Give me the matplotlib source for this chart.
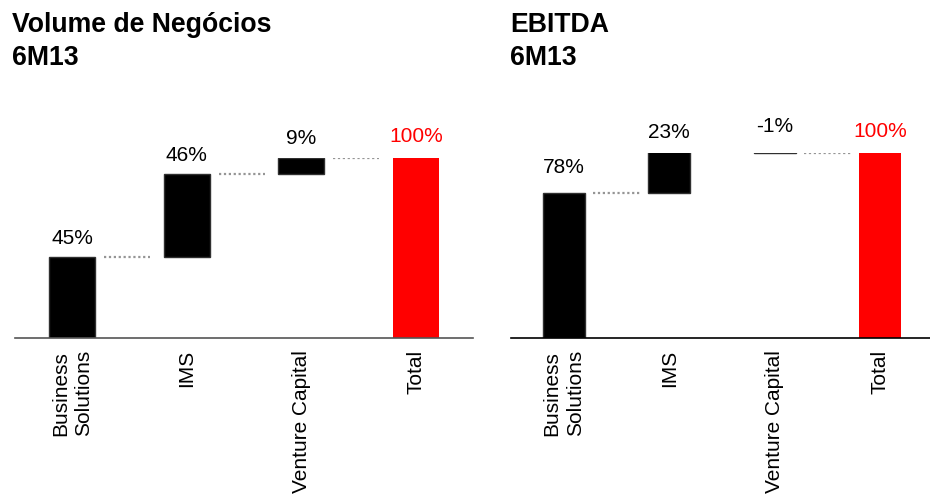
import matplotlib
matplotlib.use("Agg")
import matplotlib.pyplot as plt
import numpy as np

plt.rcParams['font.family'] = ['Liberation Sans', 'DejaVu Sans']

categories = ['Business\nSolutions', 'IMS', 'Venture Capital', 'Total']
volume_values = [45, 46, 9, 100]
ebitda_values = [78, 23, -1, 100]
volume_title = ['Volume de Negócios', '6M13']
ebitda_title = ['EBITDA', '6M13']

W, H = 930, 498
fig = plt.figure(figsize=(W / 100, H / 100), dpi=100)


def px_axes(x0, y_base, width, height):
    return fig.add_axes([x0 / W, (H - y_base) / H, width / W, height / H])


def waterfall(ax, values, label_pads, gap_l, gap_r, spine_color):
    n = len(values)
    bottoms, heights, colors = [], [], []
    level = 0
    for i, v in enumerate(values):
        if i == n - 1:
            bottoms.append(0)
            heights.append(v)
            colors.append('#ff0000')
        else:
            b = min(level, level + v)
            bottoms.append(b)
            heights.append(abs(v))
            colors.append('#000000')
            level += v
    x = np.arange(n)
    width = 0.40
    for i in range(n):
        ec = '#303030' if i < n - 1 else '#ff0000'
        ax.bar(x[i], heights[i], width, bottom=bottoms[i], color=colors[i],
               edgecolor=ec, linewidth=1.0 if i < n - 1 else 0)
    # connectors
    level = 0
    for i in range(n - 1):
        level += values[i]
        ax.plot([x[i] + width / 2 + gap_l, x[i + 1] - width / 2 - gap_r],
                [level, level], color='#959595', linestyle=(0, (1, 1.2)),
                linewidth=1.6, solid_capstyle='butt')
    # labels
    for i in range(n):
        top = bottoms[i] + heights[i]
        col = '#ff0000' if i == n - 1 else '#000000'
        ax.annotate(f'{values[i]}%', (x[i], top), xytext=(0, label_pads[i] * 0.72),
                    textcoords='offset points', ha='center', va='bottom',
                    fontsize=15, color=col, annotation_clip=False)
    ax.set_xlim(-0.5, n - 0.5)
    ax.set_ylim(0, 100)
    ax.set_xticks(x)
    ax.set_xticklabels(categories, rotation=90, fontsize=15, ha='center', va='top',
                       multialignment='center', linespacing=1.3)
    ax.tick_params(axis='x', length=0, pad=9)
    ax.set_yticks([])
    for s in ['top', 'left', 'right']:
        ax.spines[s].set_visible(False)
    ax.spines['bottom'].set_color(spine_color)
    ax.spines['bottom'].set_linewidth(1.2)
    ax.patch.set_alpha(0)


ax1 = px_axes(15, 337.5, 458, 179.5)
waterfall(ax1, volume_values, [9, 9, 10, 12], 0.08, 0.12, '#555555')

ax2 = px_axes(511, 337.5, 422, 185)
waterfall(ax2, ebitda_values, [16, 9, 15, 12], 0.08, 0.08, '#000000')

for xpx, lines in [(12, volume_title), (510, ebitda_title)]:
    fig.text(xpx / W, 1 - 32.5 / H, lines[0], fontsize=19.2, fontweight='bold',
             ha='left', va='baseline')
    fig.text(xpx / W, 1 - 64.5 / H, lines[1], fontsize=19.2, fontweight='bold',
             ha='left', va='baseline')

fig.savefig('out.png', dpi=100)
